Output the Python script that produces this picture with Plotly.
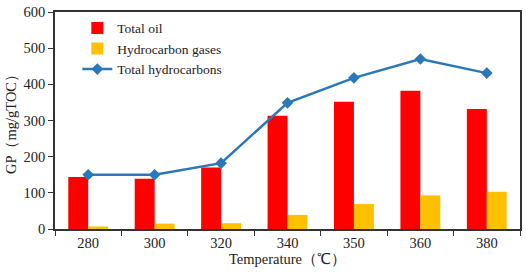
import plotly.graph_objects as go

temps = ["280", "300", "320", "340", "350", "360", "380"]
total_oil = [144, 139, 170, 313, 352, 382, 332]
hc_gases = [7, 15, 16, 39, 69, 93, 103]
total_hc = [150, 150, 182, 349, 418, 470, 431]

font = "Liberation Serif, Times New Roman, serif"

fig = go.Figure()
fig.add_trace(go.Bar(x=temps, y=total_oil, name="Total oil", marker_color="#ff0000", marker_line_width=0))
fig.add_trace(go.Bar(x=temps, y=hc_gases, name="Hydrocarbon gases", marker_color="#ffc000", marker_line_width=0))
fig.add_trace(go.Scatter(x=temps, y=total_hc, name="Total hydrocarbons", mode="lines+markers",
                         line=dict(color="#2a78b8", width=2.5),
                         marker=dict(symbol="diamond", size=9, color="#2a78b8")))

fig.update_layout(
    width=526, height=273,
    margin=dict(l=55, r=4, t=7, b=44),
    paper_bgcolor="white", plot_bgcolor="white",
    barmode="group", bargap=0.4, bargroupgap=0,
    font=dict(family=font, size=14.5, color="#222"),
    showlegend=True,
    legend=dict(x=0.048, y=0.997, xanchor="left", yanchor="top", bgcolor="rgba(0,0,0,0)",
                font=dict(size=13.5, family=font), tracegroupgap=0, itemwidth=30),
    xaxis=dict(type="category", tickson="boundaries", ticks="outside", ticklen=5, tickcolor="#333",
               showline=True, linecolor="#333", linewidth=1.5, mirror=True, showgrid=False,
               title=dict(text="Temperature（℃）", standoff=0, font=dict(size=14.5))),
    yaxis=dict(range=[0, 600], dtick=100, ticks="outside", ticklen=5, tickcolor="#333",
               showline=True, linecolor="#333", linewidth=1.5, mirror=True, showgrid=False,
               zeroline=False, ticklabeloverflow="allow",
               title=dict(text="GP（mg/gTOC）", standoff=4, font=dict(size=14.5))),
)

fig.write_html("out.html", config={"displayModeBar": False},
               post_script="document.body.style.margin='0';document.body.style.padding='0';document.body.style.overflow='hidden';")
